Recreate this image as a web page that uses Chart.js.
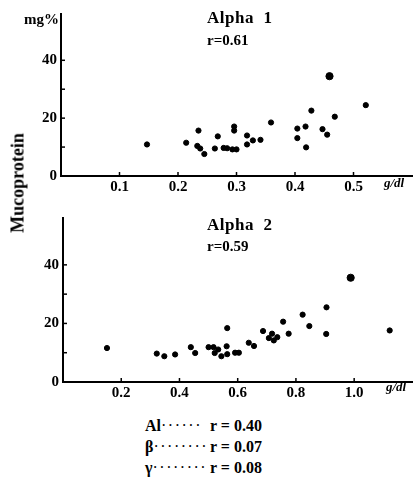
<!DOCTYPE html>
<html>
<head>
<meta charset="utf-8">
<script src="https://cdn.jsdelivr.net/npm/chart.js@4"></script>
<style>
  body { margin: 0; background: #fff; }
  #wrap { position: relative; width: 417px; height: 483px; font-family: "Liberation Serif", "DejaVu Serif", serif; color: #000; }
  .c { position: absolute; left: 0; }
  .t { position: absolute; white-space: nowrap; }
  .title { font-weight: bold; font-size: 17px; letter-spacing: 0.5px; }
  .r { font-weight: bold; font-size: 15px; }
  .unit { font-style: italic; font-weight: bold; font-size: 13px; }
  .line { font-size: 16px; font-weight: bold; }
  .dots { font-weight: normal; letter-spacing: 1.5px; }
</style>
</head>
<body>
<div id="wrap">
  <canvas id="alpha1" class="c" style="top:0" width="417" height="200"></canvas>
  <canvas id="alpha2" class="c" style="top:200px" width="417" height="210"></canvas>

  <div class="t title" style="left:207px;top:8px">Alpha&nbsp;&nbsp;1</div>
  <div class="t r" style="left:207px;top:32px">r=0.61</div>
  <div class="t title" style="left:207px;top:215px">Alpha&nbsp;&nbsp;2</div>
  <div class="t r" style="left:207px;top:238px">r=0.59</div>

  <div class="t" style="left:24px;top:11px;font-weight:bold;font-size:15px">mg%</div>
  <div class="t unit" style="left:384px;top:175px">g/dl</div>
  <div class="t unit" style="left:386px;top:379px">g/dl</div>

  <div class="t" style="left:18px;top:183px;font-size:18px;font-weight:bold;transform:translate(-50%,-50%) rotate(-90deg)">Mucoprotein</div>

  <div class="t line" style="left:145px;top:417px">Al<span class="dots">······</span></div>
  <div class="t line" style="left:210px;top:417px">r = 0.40</div>
  <div class="t line" style="left:145px;top:438px">β<span class="dots">········</span></div>
  <div class="t line" style="left:210px;top:438px">r = 0.07</div>
  <div class="t line" style="left:145px;top:459px">γ<span class="dots">········</span></div>
  <div class="t line" style="left:210px;top:459px">r = 0.08</div>
</div>
<script>
// Alpha 1 (g/dl) vs mucoprotein (mg%)
const alpha1X = [0.147, 0.214, 0.235, 0.233, 0.238, 0.245, 0.263, 0.268, 0.278, 0.284, 0.293, 0.300,
  0.296, 0.296, 0.318, 0.318, 0.328, 0.341, 0.359, 0.404, 0.404, 0.418, 0.419, 0.428, 0.447, 0.455,
  0.459, 0.468, 0.521];
const alpha1Y = [10.9, 11.5, 15.7, 10.4, 9.5, 7.6, 9.5, 13.7, 9.7, 9.6, 9.2, 9.2,
  17.1, 15.7, 14.0, 10.9, 12.3, 12.5, 18.5, 16.4, 13.1, 17.1, 9.9, 22.6, 16.2, 14.3,
  34.5, 20.5, 24.5];

// Alpha 2 (g/dl) vs mucoprotein (mg%)
const alpha2X = [0.151, 0.322, 0.348, 0.385, 0.439, 0.454, 0.500, 0.517, 0.521, 0.533, 0.544,
  0.564, 0.562, 0.564, 0.591, 0.604, 0.638, 0.656, 0.687, 0.707, 0.718, 0.724, 0.736, 0.756,
  0.775, 0.823, 0.846, 0.905, 0.904, 0.988, 1.122];
const alpha2Y = [11.6, 9.7, 8.8, 9.4, 11.9, 9.9, 11.9, 11.9, 9.9, 11.1, 8.8,
  18.4, 12.2, 9.5, 10.0, 10.0, 13.4, 12.3, 17.4, 15.0, 16.5, 14.2, 15.3, 20.6,
  16.5, 23.0, 19.1, 25.5, 16.4, 35.6, 17.6];

const yLabels = [0, 20, 40];
const x1Labels = [0.1, 0.2, 0.3, 0.4, 0.5];
const x2Labels = [0.2, 0.4, 0.6, 0.8, 1.0];

const tickFont = { family: '"Liberation Serif", serif', size: 15, weight: 'bold' };

// short tick marks pointing into the plot
const innerTicks = {
  id: 'innerTicks',
  afterDraw(chart) {
    const { ctx, scales: { x, y } } = chart;
    ctx.save();
    ctx.strokeStyle = '#000';
    ctx.lineWidth = 1.5;
    x.ticks.forEach(t => {
      if (t.value <= 0 || t.value >= x.max - 1e-6) return;
      const px = x.getPixelForValue(t.value);
      ctx.beginPath(); ctx.moveTo(px, x.top); ctx.lineTo(px, x.top - 4); ctx.stroke();
    });
    y.ticks.forEach(t => {
      if (t.value <= 0 || t.value > 45) return;
      const py = y.getPixelForValue(t.value);
      ctx.beginPath(); ctx.moveTo(y.right, py); ctx.lineTo(y.right + 4, py); ctx.stroke();
    });
    ctx.restore();
  }
};

function makeChart(id, xs, ys, xMax, xStep, xLabels, yWidth, xHeight, pad) {
  const pts = xs.map((v, i) => ({ x: v, y: ys[i] }));
  const top = Math.max(...ys);
  return new Chart(document.getElementById(id), {
    type: 'scatter',
    data: { datasets: [{ data: pts, backgroundColor: '#000', borderColor: '#000',
      pointRadius: c => (c.raw && c.raw.y === top ? 3.6 : 2.6), pointHoverRadius: 3 }] },
    options: {
      responsive: false,
      animation: false,
      layout: { padding: pad },
      plugins: { legend: { display: false }, tooltip: { enabled: false } },
      scales: {
        x: {
          type: 'linear', min: 0, max: xMax,
          afterFit: s => { s.height = xHeight; },
          grid: { display: false, drawTicks: false },
          border: { color: '#000', width: 2 },
          ticks: { stepSize: xStep, padding: 2, color: '#000', font: tickFont, maxRotation: 0,
            callback: v => (xLabels.some(l => Math.abs(l - v) < 1e-6) ? v.toFixed(1) : '') }
        },
        y: {
          type: 'linear', min: 0, max: 56,
          afterFit: s => { s.width = yWidth; },
          grid: { display: false, drawTicks: false },
          border: { color: '#000', width: 2 },
          ticks: { stepSize: 10, padding: 4, color: '#000', font: tickFont,
            callback: v => (yLabels.includes(v) ? String(v) : '') }
        }
      }
    },
    plugins: [innerTicks]
  });
}

makeChart('alpha1', alpha1X, alpha1Y, 0.6, 0.1, x1Labels, 61, 24, { top: 14, right: 5, left: 0, bottom: 0 });
makeChart('alpha2', alpha2X, alpha2Y, 1.2, 0.2, x2Labels, 63, 28, { top: 18, right: 4, left: 0, bottom: 0 });
</script>
</body>
</html>
